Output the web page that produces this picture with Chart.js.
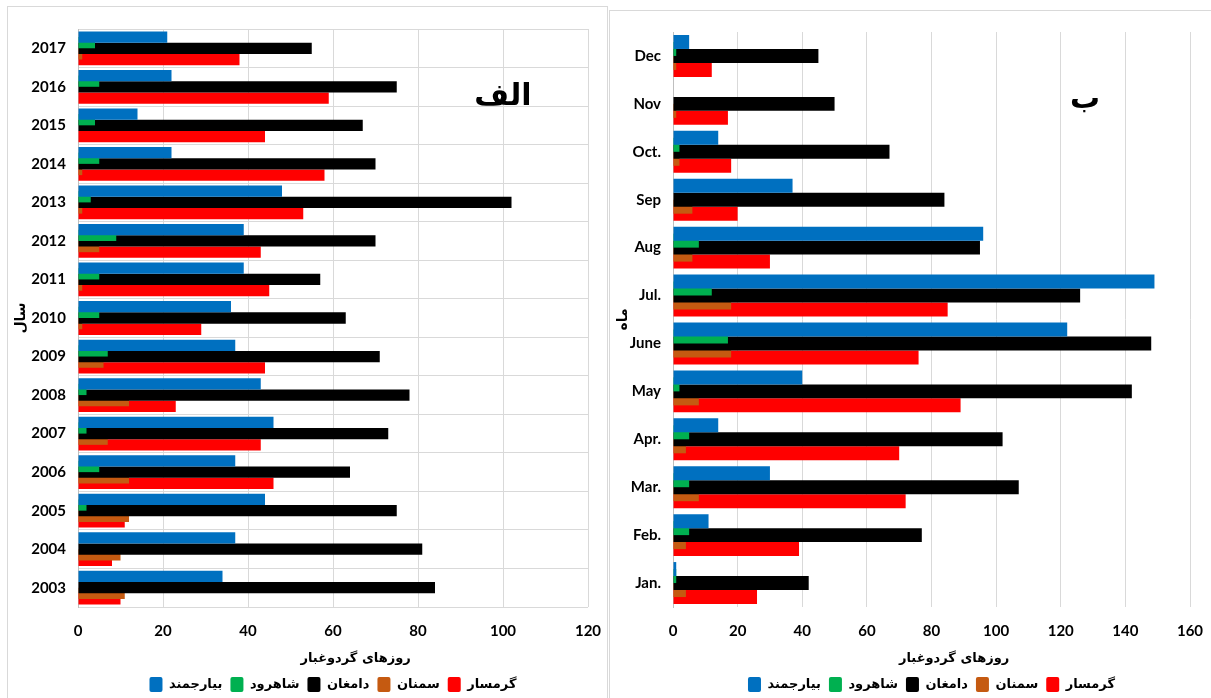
<!DOCTYPE html>
<html>
<head>
<meta charset="utf-8">
<script src="https://cdn.jsdelivr.net/npm/chart.js@4.4.1/dist/chart.umd.min.js"></script>
<style>
  body { margin: 0; background: #fff; width: 1211px; height: 698px; overflow: hidden; position: relative; }
  .panel { position: absolute; border: 1px solid #d9d9d9; background: #fff; }
  #p1 { left: 7px; top: 6px; width: 599px; height: 700px; }
  #p2 { left: 609px; top: 10px; width: 610px; height: 700px; }
  canvas { position: absolute; left: 0; top: 0; }
</style>
</head>
<body>
<div class="panel" id="p1"><canvas id="yearChart" width="599" height="695"></canvas></div>
<div class="panel" id="p2"><canvas id="monthChart" width="600" height="691"></canvas></div>
<script>
// Dust days per station — (الف) by year, (ب) by month
const stations = ['بیارجمند', 'شاهرود', 'دامغان', 'سمنان', 'گرمسار'];
const stationColors = ['#0070C0', '#00B050', '#000000', '#C55A11', '#FF0000'];

// panel الف — years 2003..2017
const years = ['2003','2004','2005','2006','2007','2008','2009','2010','2011','2012','2013','2014','2015','2016','2017'];
const yearBiarjomand = [34, 37, 44, 37, 46, 43, 37, 36, 39, 39, 48, 22, 14, 22, 21];
const yearShahroud   = [0, 0, 2, 5, 2, 2, 7, 5, 5, 9, 3, 5, 4, 5, 4];
const yearDamghan    = [84, 81, 75, 64, 73, 78, 71, 63, 57, 70, 102, 70, 67, 75, 55];
const yearSemnan     = [11, 10, 12, 12, 7, 12, 6, 1, 1, 5, 1, 1, 0, 0, 1];
const yearGarmsar    = [10, 8, 11, 46, 43, 23, 44, 29, 45, 43, 53, 58, 44, 59, 38];

// panel ب — months Jan..Dec
const months = ['Jan.','Feb.','Mar.','Apr.','May','June','Jul.','Aug','Sep','Oct.','Nov','Dec'];
const monthBiarjomand = [1, 11, 30, 14, 40, 122, 149, 96, 37, 14, 0, 5];
const monthShahroud   = [1, 5, 5, 5, 2, 17, 12, 8, 0, 2, 0, 1];
const monthDamghan    = [42, 77, 107, 102, 142, 148, 126, 95, 84, 67, 50, 45];
const monthSemnan     = [4, 4, 8, 4, 8, 18, 18, 6, 6, 2, 1, 1];
const monthGarmsar    = [26, 39, 72, 70, 89, 76, 85, 30, 20, 18, 17, 12];

const latinFont = "Lato, 'DejaVu Sans', sans-serif";
const arabicFont = "'DejaVu Sans', sans-serif";
const gridColor = '#d9d9d9';
// title sits a bit right of the plot centre in the original; leading no-break spaces nudge it
const xTitle = '\u00a0'.repeat(10) + 'روزهای گردوغبار';

// big panel letter inside the plot
const panelTag = {
    id: 'panelTag',
    afterDraw(chart, args, opts) {
        const { ctx, chartArea: a } = chart;
        ctx.save();
        ctx.font = "bold 30px 'DejaVu Sans', sans-serif";
        ctx.fillStyle = '#000';
        ctx.textAlign = 'center';
        ctx.textBaseline = 'middle';
        ctx.fillText(opts.text, a.left + a.width * opts.fx, a.top + a.height * opts.fy);
        ctx.restore();
    }
};

function makeChart(id, labels, series, maxX, yTitle, tag, cfg) {
    return new Chart(document.getElementById(id), {
        type: 'bar',
        data: {
            labels: labels,
            datasets: series.map((d, i) => ({
                label: stations[i],
                data: d,
                backgroundColor: stationColors[i],
                borderWidth: 0,
                // barPercentage 2 -> neighbouring bars overlap by half, like the Excel chart
                barPercentage: 2,
                categoryPercentage: 0.73,
            }))
        },
        options: {
            indexAxis: 'y',
            responsive: false,
            animation: false,
            layout: { padding: cfg.padding },
            scales: {
                x: {
                    min: 0, max: maxX,
                    afterFit: s => { s.height = 62; s.paddingLeft = 0; s.paddingRight = 0; },
                    ticks: { stepSize: 20, padding: 15, color: '#000', font: { family: latinFont, size: 15, weight: 'bold' } },
                    grid: { color: gridColor, drawTicks: false },
                    border: { display: false },
                    title: { display: true, text: xTitle, color: '#000', padding: { top: 6, bottom: 3 },
                             font: { family: arabicFont, size: 13, weight: 'bold' } },
                },
                y: {
                    reverse: true,
                    afterFit: s => { s.width = cfg.yWidth; },
                    ticks: { padding: 12, color: '#000', font: { family: latinFont, size: 15, weight: 'bold' } },
                    grid: { display: cfg.rowLines, color: gridColor, drawTicks: false },
                    border: { display: true, color: '#bfbfbf' },
                    title: { display: true, text: yTitle, color: '#000', padding: { top: 5, bottom: 0 },
                             font: { family: arabicFont, size: 14, weight: 'bold' } },
                }
            },
            plugins: {
                legend: {
                    position: 'bottom',
                    fullSize: false,
                    labels: {
                        boxWidth: 13, boxHeight: 15, padding: 8, color: '#000',
                        useBorderRadius: true, borderRadius: 2,
                        font: { family: arabicFont, size: 13, weight: 'bold' }
                    }
                },
                tooltip: { enabled: false },
                panelTag: tag,
            }
        },
        plugins: [panelTag]
    });
}

makeChart('yearChart', years,
    [yearBiarjomand, yearShahroud, yearDamghan, yearSemnan, yearGarmsar],
    120, 'سال', { text: 'الف', fx: 0.833, fy: 0.118 },
    { padding: { top: 22, right: 19, bottom: 0, left: 0 }, yWidth: 70, rowLines: true });

makeChart('monthChart', months,
    [monthBiarjomand, monthShahroud, monthDamghan, monthSemnan, monthGarmsar],
    160, 'ماه', { text: 'ب', fx: 0.797, fy: 0.118 },
    { padding: { top: 20, right: 20, bottom: 0, left: 0 }, yWidth: 63, rowLines: false });
</script>
</body>
</html>
